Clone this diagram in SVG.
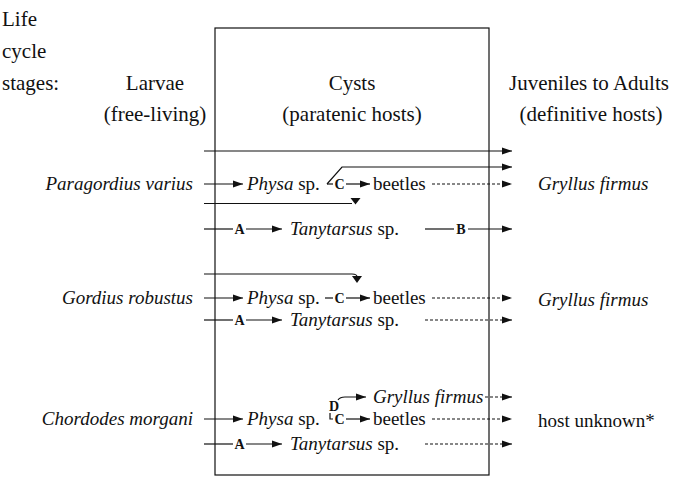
<svg xmlns="http://www.w3.org/2000/svg" width="681" height="478" viewBox="0 0 681 478" font-family="Liberation Serif, Times New Roman, DejaVu Serif, serif">
<style>
text{font-family:'Liberation Serif','Times New Roman','DejaVu Serif',serif}
.t{font-size:19px;fill:#111}
.h{font-size:21px}
.i{font-style:italic}
.m{text-anchor:middle}
.e{text-anchor:end}
.lb{font-weight:bold;font-size:14px;fill:#111;text-anchor:middle}
.ln{stroke:#111;stroke-width:1.2;fill:none}
.ar{marker-end:url(#ah)}
.d{stroke-dasharray:3 2}
</style>
<defs>
<marker id="ah" markerWidth="10" markerHeight="8" refX="10" refY="4" orient="auto" markerUnits="userSpaceOnUse">
<path d="M0,0.5 L10,4 L0,7.5 z" fill="#111"/>
</marker>
</defs>
<rect width="681" height="478" fill="#fff"/>
<g id="box"><rect x="215" y="28" width="274" height="447" class="ln"/></g>
<g id="header">
<text class="t h" x="2" y="26">Life</text>
<text class="t h" x="2" y="58">cycle</text>
<text class="t h" x="2" y="90">stages:</text>
<text class="t h m" x="155" y="90">Larvae</text>
<text class="t h m" x="155" y="121">(free-living)</text>
<text class="t h m" x="352" y="90">Cysts</text>
<text class="t h m" x="352" y="121">(paratenic hosts)</text>
<text class="t h m" x="589" y="90">Juveniles to Adults</text>
<text class="t h m" x="591" y="121">(definitive hosts)</text>
</g>
<g id="paragordius"><text class="t i e" x="193" y="190">Paragordius varius</text></g>
<g id="physa1"><text class="t" x="247" y="190"><tspan class="i">Physa</tspan> sp.</text></g>
<g id="beetles1"><text class="t" x="373" y="190">beetles</text></g>
<g id="tanytarsus1"><text class="t" x="290" y="235"><tspan class="i">Tanytarsus</tspan> sp.</text></g>
<g id="gryllus1"><text class="t i" x="538" y="190">Gryllus firmus</text></g>
<g id="gordius"><text class="t i e" x="193" y="304">Gordius robustus</text></g>
<g id="physa2"><text class="t" x="247" y="304"><tspan class="i">Physa</tspan> sp.</text></g>
<g id="beetles2"><text class="t" x="373" y="304">beetles</text></g>
<g id="tanytarsus2"><text class="t" x="290" y="326"><tspan class="i">Tanytarsus</tspan> sp.</text></g>
<g id="gryllus2"><text class="t i" x="538" y="306">Gryllus firmus</text></g>
<g id="chordodes"><text class="t i e" x="193" y="425">Chordodes morgani</text></g>
<g id="gryllus3"><text class="t i" x="373" y="403">Gryllus firmus</text></g>
<g id="physa3"><text class="t" x="247" y="425"><tspan class="i">Physa</tspan> sp.</text></g>
<g id="beetles3"><text class="t" x="373" y="425">beetles</text></g>
<g id="tanytarsus3"><text class="t" x="290" y="450"><tspan class="i">Tanytarsus</tspan> sp.</text></g>
<g id="unknown"><text class="t" x="538" y="427">host unknown*</text></g>
<g id="connectors">
<path class="ln ar" d="M204,151 H512"/>
<path class="ln ar" d="M327,184 L342,167 H512"/>
<path class="ln" d="M327,184 H333"/>
<text class="lb" x="339.5" y="189">C</text>
<path class="ln ar" d="M346,184 H370"/>
<path class="ln ar" d="M204,184 H243"/>
<path class="ln d ar" d="M432,184 H512"/>
<path class="ln" d="M204,203.5 H352"/>
<path d="M350.5,198 L360.5,198 L355.5,204.5 z" fill="#111"/>
<path class="ln" d="M204,229 H233"/>
<text class="lb" x="239.5" y="234">A</text>
<path class="ln ar" d="M246,229 H282"/>
<path class="ln" d="M425,229 H454"/>
<text class="lb" x="461" y="234">B</text>
<path class="ln ar" d="M468,229 H512"/>

<path class="ln" d="M204,274 H352 Q357,274 357,277"/>
<path d="M352,276 L362,276 L357,283 z" fill="#111"/>
<path class="ln ar" d="M204,298 H243"/>
<path class="ln" d="M325,298 H333"/>
<text class="lb" x="339.5" y="303">C</text>
<path class="ln ar" d="M346,298 H370"/>
<path class="ln d ar" d="M432,298 H512"/>
<path class="ln" d="M204,320 H233"/>
<text class="lb" x="239.5" y="325">A</text>
<path class="ln ar" d="M246,320 H282"/>
<path class="ln d ar" d="M425,320 H512"/>

<text class="lb" x="334" y="411">D</text>
<path class="ln ar" d="M338,400 Q340,397 345,397 H366"/>
<path class="ln d ar" d="M485,397 H512"/>
<path class="ln ar" d="M204,419 H243"/>
<path class="ln" d="M330,413 V419 H333"/>
<text class="lb" x="339.5" y="424">C</text>
<path class="ln ar" d="M346,419 H370"/>
<path class="ln d ar" d="M432,419 H512"/>
<path class="ln" d="M204,444 H233"/>
<text class="lb" x="239.5" y="449">A</text>
<path class="ln ar" d="M246,444 H282"/>
<path class="ln d ar" d="M425,444 H512"/>
</g>
</svg>
